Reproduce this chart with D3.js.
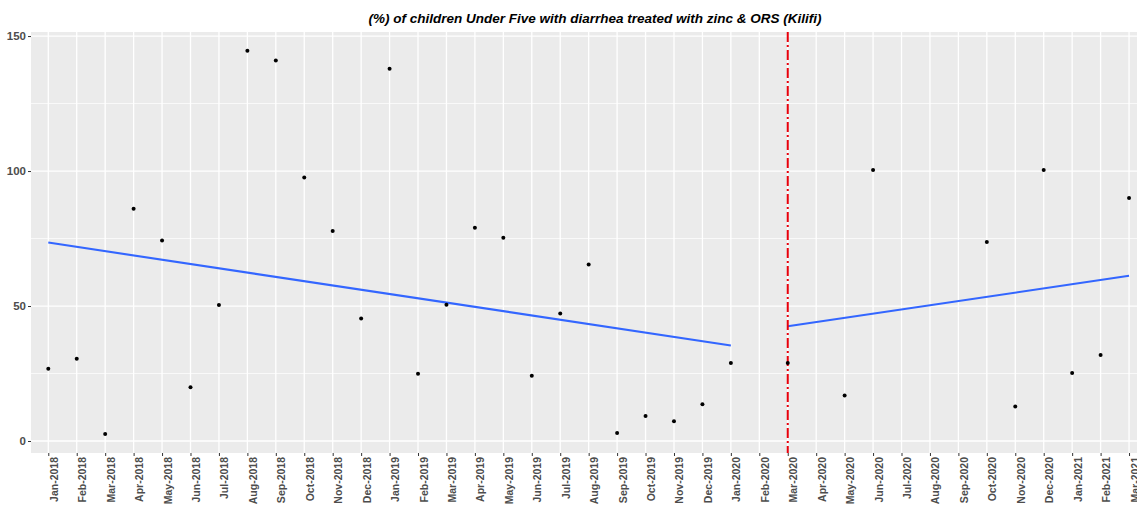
<!DOCTYPE html>
<html>
<head>
<meta charset="utf-8">
<script src="https://cdn.jsdelivr.net/npm/d3@7"></script>
<style>
  body { margin: 0; background: #fff; }
  svg { display: block; font-family: "Liberation Sans", Arial, sans-serif; }
</style>
</head>
<body>
<svg id="chart" width="1137" height="506"></svg>
<script>
// month labels (one per index on the x axis)
const months = [
  "Jan-2018", "Feb-2018", "Mar-2018", "Apr-2018", "May-2018", "Jun-2018",
  "Jul-2018", "Aug-2018", "Sep-2018", "Oct-2018", "Nov-2018", "Dec-2018",
  "Jan-2019", "Feb-2019", "Mar-2019", "Apr-2019", "May-2019", "Jun-2019",
  "Jul-2019", "Aug-2019", "Sep-2019", "Oct-2019", "Nov-2019", "Dec-2019",
  "Jan-2020", "Feb-2020", "Mar-2020", "Apr-2020", "May-2020", "Jun-2020",
  "Jul-2020", "Aug-2020", "Sep-2020", "Oct-2020", "Nov-2020", "Dec-2020",
  "Jan-2021", "Feb-2021", "Mar-2021"
];

// % treated with zinc & ORS, null where no point is shown
const values = [
  26.8, 30.5, 2.6, 86.0, 74.3, 19.9, 50.4, 144.6, 140.9, 97.6, 77.8, 45.4,
  137.9, 24.9, 50.5, 79.0, 75.3, 24.2, 47.2, 65.4, 3.0, 9.3, 7.3, 13.6,
  28.9, null, 28.9, null, 16.9, 100.4, null, null, null, 73.7, 12.8, 100.4,
  25.2, 31.9, 90.0
];

// fitted trend segments (pre / post intervention)
const trendStartIdx = [0, 26];
const trendEndIdx = [24, 38];
const trendStartVal = [73.5, 42.5];
const trendEndVal = [35.4, 61.2];

const interventionIdx = 26;

const yMajor = [0, 50, 100, 150];
const yMinor = [25, 75, 125];

const title = "(%) of children Under Five with diarrhea treated with zinc & ORS (Kilifi)";

const panel = { left: 31, right: 1137, top: 32, bottom: 453 };

const svg = d3.select("#chart");

const x = d3.scaleLinear()
    .domain([-0.608, 38.28])
    .range([panel.left, panel.right]);

const y = d3.scaleLinear()
    .domain([-4.44, 151.5])
    .range([panel.bottom, panel.top]);

// panel background
svg.append("rect")
    .attr("x", panel.left)
    .attr("y", panel.top)
    .attr("width", panel.right - panel.left)
    .attr("height", panel.bottom - panel.top)
    .attr("fill", "#ebebeb");

const grid = svg.append("g");

grid.selectAll("line.minor")
    .data(yMinor)
    .join("line")
    .attr("class", "minor")
    .attr("x1", panel.left).attr("x2", panel.right)
    .attr("y1", d => y(d)).attr("y2", d => y(d))
    .attr("stroke", "#fff")
    .attr("stroke-width", 0.7);

grid.selectAll("line.major")
    .data(yMajor)
    .join("line")
    .attr("class", "major")
    .attr("x1", panel.left).attr("x2", panel.right)
    .attr("y1", d => y(d)).attr("y2", d => y(d))
    .attr("stroke", "#fff")
    .attr("stroke-width", 1.3);

grid.selectAll("line.vx")
    .data(months)
    .join("line")
    .attr("class", "vx")
    .attr("x1", (d, i) => x(i)).attr("x2", (d, i) => x(i))
    .attr("y1", panel.top).attr("y2", panel.bottom)
    .attr("stroke", "#fff")
    .attr("stroke-width", 1.3);

// trend lines
svg.append("g")
    .selectAll("line")
    .data(trendStartIdx)
    .join("line")
    .attr("x1", (d, i) => x(d))
    .attr("y1", (d, i) => y(trendStartVal[i]))
    .attr("x2", (d, i) => x(trendEndIdx[i]))
    .attr("y2", (d, i) => y(trendEndVal[i]))
    .attr("stroke", "#3366ff")
    .attr("stroke-width", 2.1);

// intervention marker
svg.append("line")
    .attr("x1", x(interventionIdx)).attr("x2", x(interventionIdx))
    .attr("y1", panel.top).attr("y2", panel.bottom)
    .attr("stroke", "#e8000b")
    .attr("stroke-width", 2)
    .attr("stroke-dasharray", "10,3,2,3");

// points
svg.append("g")
    .selectAll("circle")
    .data(values.map((v, i) => ({ i, v })).filter(d => d.v !== null))
    .join("circle")
    .attr("cx", d => x(d.i))
    .attr("cy", d => y(d.v))
    .attr("r", 2)
    .attr("fill", "#000");

// y axis
const yAxis = svg.append("g")
    .attr("transform", `translate(${panel.left},0)`)
    .call(d3.axisLeft(y).tickValues(yMajor).tickSize(3).tickPadding(2));
yAxis.select(".domain").remove();
yAxis.selectAll("line").attr("stroke", "#333");
yAxis.selectAll("text")
    .attr("fill", "#4d4d4d")
    .attr("font-size", 11.5)
    .attr("font-weight", "bold")
    .attr("font-family", "Liberation Sans, Arial, sans-serif");

// x axis
const xAxis = svg.append("g")
    .attr("transform", `translate(0,${panel.bottom})`)
    .call(d3.axisBottom(x)
        .tickValues(d3.range(months.length))
        .tickFormat(i => months[i])
        .tickSize(3));
xAxis.select(".domain").remove();
xAxis.selectAll("line").attr("stroke", "#333");
xAxis.selectAll("text")
    .attr("fill", "#4d4d4d")
    .attr("font-size", 10.5)
    .attr("font-weight", "bold")
    .attr("font-family", "Liberation Sans, Arial, sans-serif")
    .attr("text-anchor", "end")
    .attr("dy", null)
    .attr("y", 0)
    .attr("transform", "translate(9,4) rotate(-90)");

// title
svg.append("text")
    .attr("x", 595)
    .attr("y", 23)
    .attr("text-anchor", "middle")
    .attr("font-size", 13.5)
    .attr("font-weight", "bold")
    .attr("font-style", "italic")
    .attr("fill", "#000")
    .text(title);
</script>
</body>
</html>
